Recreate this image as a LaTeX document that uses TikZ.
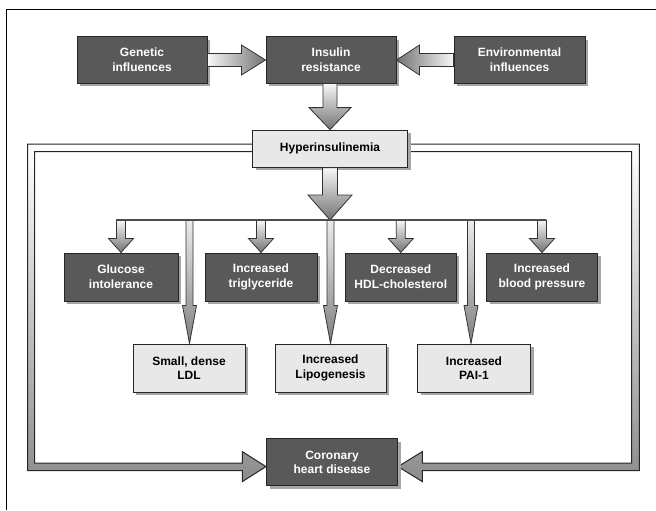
\documentclass[tikz,border=0pt]{standalone}
\usepackage{fontspec}
\setmainfont{Liberation Sans}
\usetikzlibrary{calc,shadows,backgrounds}
\newdimen\pxu \pxu=0.75pt
\newcommand\fatR[6][]{\path[#1] ($(#2)+(0,-#4)$) -- ($(#3)+(-#6,-#4)$) -- ($(#3)+(-#6,-#5)$) -- (#3) -- ($(#3)+(-#6,#5)$) -- ($(#3)+(-#6,#4)$) -- ($(#2)+(0,#4)$) -- cycle;}
\newcommand\fatL[6][]{\path[#1] ($(#2)+(0,-#4)$) -- ($(#3)+(#6,-#4)$) -- ($(#3)+(#6,-#5)$) -- (#3) -- ($(#3)+(#6,#5)$) -- ($(#3)+(#6,#4)$) -- ($(#2)+(0,#4)$) -- cycle;}
\newcommand\fatD[6][]{\path[#1] ($(#3 |- #2)+(-#4,0)$) -- ($(#3)+(-#4,-#6)$) -- ($(#3)+(-#5,-#6)$) -- (#3) -- ($(#3)+(#5,-#6)$) -- ($(#3)+(#4,-#6)$) -- ($(#3 |- #2)+(#4,0)$) -- cycle;}
\tikzset{
  box/.style={draw=black!85, line width=1\pxu, align=center, inner sep=0pt,
    font=\fontsize{9}{11}\selectfont\bfseries, minimum height=46\pxu,
    drop shadow={shadow xshift=3\pxu, shadow yshift=-3\pxu, fill=black!35, opacity=1}},
  darkbox/.style={box, fill=black!65, text=white},
  lightbox/.style={box, fill=black!9, text=black},
  fat/.style={draw=black!80, line width=0.8\pxu, line join=miter},
  fatH/.style={fat, left color=black!3, right color=black!55},
  fatHL/.style={fat, left color=black!55, right color=black!3},
  fatV/.style={fat, top color=black!3, bottom color=black!55},
  fatThin/.style={fat, top color=black!8, bottom color=black!50},
  frameband/.style={draw=black!85, line width=1\pxu, line join=miter, top color=white, bottom color=black!45},
}
\begin{document}
\begin{tikzpicture}[x=0.75pt, y=-0.75pt]
\useasboundingbox (0,0) rectangle (656,510);
\draw[line width=1.3\pxu] (6.5,510) -- (6.5,9.5) -- (656,9.5);

% top row
\node[darkbox, minimum width=130\pxu] (gen) at (142,60) {Genetic\\influences};
\node[darkbox, minimum width=130\pxu] (ins) at (331,60) {Insulin\\resistance};
\node[darkbox, minimum width=131\pxu] (env) at (519.5,60) {Environmental\\influences};
\node[lightbox, minimum width=155\pxu, minimum height=37\pxu] (hyp) at (330,148.6) {Hyperinsulinemia};

% result row
\node[darkbox, minimum width=114\pxu, minimum height=48\pxu] (glu) at (121,277) {Glucose\\intolerance};
\node[darkbox, minimum width=112\pxu, minimum height=48\pxu] (tri) at (261,277) {Increased\\triglyceride};
\node[darkbox, minimum width=111\pxu, minimum height=48\pxu] (hdl) at (400.8,277) {Decreased\\HDL-cholesterol};
\node[darkbox, minimum width=111\pxu, minimum height=48\pxu] (bp) at (542,277) {Increased\\blood pressure};

\node[lightbox, minimum width=112\pxu, minimum height=48\pxu] (ldl) at (189,368) {Small, dense\\LDL};
\node[lightbox, minimum width=111\pxu, minimum height=48\pxu] (lip) at (330.5,368) {Increased\\Lipogenesis};
\node[lightbox, minimum width=113\pxu, minimum height=48\pxu] (pai) at (474,368) {Increased\\PAI-1};

\node[darkbox, minimum width=131\pxu, minimum height=46.7\pxu] (chd) at (332,462.3) {Coronary\\heart disease};

\coordinate (bar) at (330,220);
\coordinate (barL) at (116,220);
\coordinate (barR) at (546,220);
\coordinate (ldltop) at ($(ldl.north)+(0.5,0)$);
\coordinate (paitop) at ($(pai.north)+(-3,0)$);
\coordinate (chdL) at ($(chd.west)+(0,4.3)$);
\coordinate (chdR) at ($(chd.east)+(0,4.3)$);

% frame bands (behind boxes)
\begin{scope}[on background layer]
\path[frameband] ($(hyp.west)+(6,-4.6)$) -- (27.5,144) -- (27.5,470.5) -- (242.3,470.5) -- (242.3,481.6)
  -- (chdL) -- (242.3,451.6) -- (242.3,463) -- (34.5,463) -- (34.5,151.5) -- ($(hyp.west)+(6,2.9)$) -- cycle;
\path[frameband] ($(hyp.east)+(-6,-4.6)$) -- (639.3,144) -- (639.3,470.5) -- (422.3,470.5) -- (422.3,481.6)
  -- (chdR) -- (422.3,451.6) -- (422.3,463) -- (631.5,463) -- (631.5,151.5) -- ($(hyp.east)+(-6,2.9)$) -- cycle;
\end{scope}

% fat arrows
\fatR[fatH]{gen.east}{ins.west}{6.5}{15}{24}
\fatL[fatHL]{env.west}{ins.east}{6.5}{15}{23}
\fatD[fatV]{ins.south}{hyp.north}{7}{21}{22}
\fatD[fatV]{hyp.south}{bar}{7.5}{22}{25}

\fatD[fatV]{bar}{glu.north}{4.5}{12.5}{14}
\fatD[fatV]{bar}{tri.north}{4.5}{12.5}{14}
\fatD[fatV]{bar}{hdl.north}{4.5}{12.5}{14}
\fatD[fatV]{bar}{bp.north}{4.5}{12.5}{14}

\fatD[fatThin]{bar}{ldltop}{3.5}{7}{38}
\fatD[fatThin]{bar}{lip.north}{3.5}{7}{38}
\fatD[fatThin]{bar}{paitop}{3.5}{7}{38}

\draw[line width=2.5\pxu, draw=black!70] (barL) -- (barR);
\end{tikzpicture}
\end{document}
